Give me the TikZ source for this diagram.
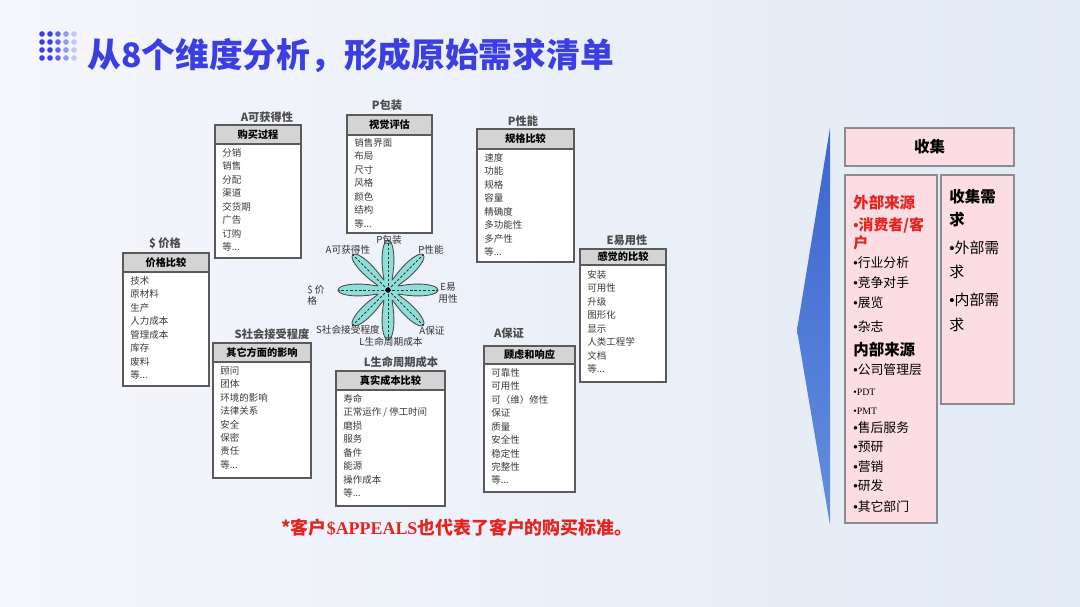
\documentclass[tikz,border=0pt]{standalone}
\usepackage{fontspec}
\setmainfont{Noto Sans CJK SC}
\newfontfamily\latinserif{Liberation Serif}
\newfontfamily\bulfont{Liberation Sans}
\newcommand{\bul}{{\bulfont •}}
\usetikzlibrary{positioning,fit,calc}

\definecolor{titleblue}{HTML}{3B3FE3}
\definecolor{boxgray}{HTML}{5A5A5A}
\definecolor{headgray}{HTML}{D4D4D4}
\definecolor{itemgray}{HTML}{3A3A3A}
\definecolor{starcyan}{HTML}{8EDFD9}
\definecolor{notered}{HTML}{E5231F}
\definecolor{panelpink}{HTML}{FCDDE4}
\definecolor{pinkline}{HTML}{8C8C8C}
\definecolor{wedgeblue}{HTML}{3A66CF}

\tikzset{
  frame/.style={draw=boxgray, line width=1.1pt, fill=white, inner sep=0pt},
  head/.style={draw=boxgray, line width=0.8pt, fill=headgray, inner sep=0pt},
  headtext/.style={font=\bfseries\fontsize{5.8}{6.5}\selectfont, text=black, inner sep=0pt},
  items/.style={anchor=north west, align=left, inner sep=0pt, font=\fontsize{5.4}{7.66}\selectfont, text=itemgray},
  dimlabel/.style={font=\bfseries\fontsize{6.4}{7}\selectfont, text=black!70, inner sep=0pt},
  starlabel/.style={font=\fontsize{5.5}{6.4}\selectfont, text=black!80, inner sep=0pt},
  pinkbox/.style={draw=pinkline, line width=0.6pt, fill=panelpink, inner sep=0pt},
  srchead/.style={anchor=west, inner sep=0pt, font=\bfseries\fontsize{8.8}{10}\selectfont},
  srcitem/.style={anchor=west, inner sep=0pt, font=\fontsize{7.3}{8}\selectfont},
  srcsmall/.style={anchor=west, inner sep=0pt, font=\latinserif\fontsize{5.6}{6}\selectfont},
  needitem/.style={anchor=west, inner sep=0pt, font=\fontsize{8.5}{9}\selectfont},
}

\begin{document}
\begin{tikzpicture}[x=0.02cm, y=-0.02cm]
% background
\shade[left color={rgb,255:red,245;green,246;blue,251}, right color={rgb,255:red,226;green,234;blue,246}] (0,0) rectangle (1080,607);
\useasboundingbox (0,0) rectangle (1080,607);

% title
\foreach \c/\o in {0/1,1/1,2/0.8,3/0.5,4/0.25}
  \foreach \r in {0,...,3}
    \fill[titleblue, opacity=\o] (42+\c*8,34+\r*8) circle[radius=1.6pt];
\node[anchor=west, inner sep=0pt, text=titleblue, font=\bfseries\fontsize{19.2}{22}\selectfont] (title) at (87,55) {从8个维度分析，形成原始需求清单};

% A availability
\node[frame, fit={(215,125)(301,258)}] (aqf) {};
\node[head, fit={(215,125)(301,144)}] (aqh) {};
\node[headtext] (aqt) at (aqh) {购买过程};
\node[items] (aqi) at (222,148) {分销\\销售\\分配\\渠道\\交货期\\广告\\订购\\等...};
\node[dimlabel] (aql) at (267,117) {A可获得性};

% P packaging
\node[frame, fit={(347,115)(432,233)}] (pkf) {};
\node[head, fit={(347,115)(432,135)}] (pkh) {};
\node[headtext] (pkt) at (pkh) {视觉评估};
\node[items] (pki) at (354,138) {销售界面\\布局\\尺寸\\风格\\颜色\\结构\\等...};
\node[dimlabel] (pkl) at (387,105) {P包装};

% P performance
\node[frame, fit={(477,129)(574,262)}] (pff) {};
\node[head, fit={(477,129)(574,149)}] (pfh) {};
\node[headtext] (pft) at (pfh) {规格比较};
\node[items] (pfi) at (484,153) {速度\\功能\\规格\\容量\\精确度\\多功能性\\多产性\\等...};
\node[dimlabel] (pfl) at (523,121) {P性能};

% $ price
\node[frame, fit={(123,253)(209,386)}] (prf) {};
\node[head, fit={(123,253)(209,272)}] (prh) {};
\node[headtext] (prt) at (prh) {价格比较};
\node[items] (pri) at (130,276) {技术\\原材料\\生产\\人力成本\\管理成本\\库存\\废料\\等...};
\node[dimlabel] (prl) at (165,243) {\$ 价格};

% S social acceptance
\node[frame, fit={(213,343)(311,478)}] (saf) {};
\node[head, fit={(213,343)(311,362)}] (sah) {};
\node[headtext] (sat) at (sah) {其它方面的影响};
\node[items] (sai) at (220,366) {顾问\\团体\\环境的影响\\法律关系\\安全\\保密\\责任\\等...};
\node[dimlabel] (sal) at (272,334) {S社会接受程度};

% L life cycle cost
\node[frame, fit={(336,371)(445,506)}] (lcf) {};
\node[head, fit={(336,371)(445,390)}] (lch) {};
\node[headtext] (lct) at (lch) {真实成本比较};
\node[items] (lci) at (343,394) {寿命\\正常运作 / 停工时间\\磨损\\服务\\备件\\能源\\操作成本\\等...};
\node[dimlabel] (lcl) at (401,362) {L生命周期成本};

% E ease of use
\node[frame, fit={(580,249)(666,382)}] (euf) {};
\node[head, fit={(580,249)(666,265)}] (euh) {};
\node[headtext] (eut) at (euh) {感觉的比较};
\node[items] (eui) at (587,270) {安装\\可用性\\升级\\图形化\\显示\\人类工程学\\文档\\等...};
\node[dimlabel] (eul) at (627,240) {E易用性};

% A assurance
\node[frame, fit={(484,346)(575,492)}] (awf) {};
\node[head, fit={(484,346)(575,364)}] (awh) {};
\node[headtext] (awt) at (awh) {顾虑和响应};
\node[items] (awi) at (491,368) {可靠性\\可用性\\可（维）修性\\保证\\质量\\安全性\\稳定性\\完整性\\等...};
\node[dimlabel] (awl) at (509,333) {A保证};

% star
\coordinate (sc) at (388,290);
\begin{scope}[shift={(sc)}]
  \draw[fill=starcyan, draw=black!70, line width=0.5pt]
    plot[smooth cycle, domain=0:357.5, samples=144, variable=\t]
    (\t:{11+39*(0.5+0.5*cos(8*\t))});
  \foreach \a in {0,45,...,315}
    \draw[black!80, dashed, dash pattern=on 1.5pt off 1pt, line width=0.5pt] (0,0) -- (\a:50);
  \fill (0,0) circle[radius=1.5pt];
\end{scope}
\node[starlabel] (s1) at (389,240) {P包装};
\node[starlabel] (s2) at (431,250) {P性能};
\node[starlabel] (s3) at (348,250) {A可获得性};
\node[starlabel, align=left] (s4) at (316,295) {\$ 价\\格};
\node[starlabel, align=center] (s5) at (448,293) {E易\\用性};
\node[starlabel] (s6) at (348,330) {S社会接受程度};
\node[starlabel] (s7) at (432,331) {A保证};
\node[starlabel] (s8) at (391,342) {L生命周期成本};

% note
\node[inner sep=0pt, text=notered, font=\bfseries\fontsize{10.2}{12}\selectfont] (note) at (457,528) {*客户{\latinserif\$APPEALS}也代表了客户的购买标准。};

% right panel
\shade[top color=wedgeblue, bottom color={rgb,255:red,100;green,142;blue,222}] (830,128) -- (797,330) -- (830,525) -- cycle;
\node[pinkbox, fit={(845,128)(1014,166)}] (collect) {};
\node[inner sep=0pt, font=\bfseries\fontsize{8.8}{10}\selectfont] (collectt) at (collect) {收集};
\node[pinkbox, fit={(845,175)(937,523)}] (srcbox) {};
\node[pinkbox, fit={(941,175)(1014,404)}] (needbox) {};

\node[srchead, text=notered] (ext) at (853,203) {外部来源};
\node[srchead, text=notered, font=\bfseries\fontsize{8.5}{9}\selectfont] (cust1) at (853,225) {\bul 消费者/客};
\node[srchead, text=notered, font=\bfseries\fontsize{8.5}{9}\selectfont] (cust2) at (853,243) {户};
\foreach \y/\t in {263/行业分析,283/竞争对手,303/展览,327/杂志}
  \node[srcitem] (s\y) at (853,\y) {\bul\t};
\node[srchead] (int) at (853,350) {内部来源};
\node[srcitem] (s370) at (853,370) {\bul 公司管理层};
\node[srcsmall] (s392) at (853,392) {•PDT};
\node[srcsmall] (s411) at (853,411) {•PMT};
\foreach \y/\t in {428/售后服务,447/预研,467/营销,486/研发,507/其它部门}
  \node[srcitem] (s\y) at (853,\y) {\bul\t};

\node[srchead] (need1) at (949,197) {收集需};
\node[srchead] (need2) at (949,220) {求};
\node[needitem] (need3) at (949,248) {\bul 外部需};
\node[needitem] (need4) at (949,272) {求};
\node[needitem] (need5) at (949,300) {\bul 内部需};
\node[needitem] (need6) at (949,325) {求};
\end{tikzpicture}
\end{document}
